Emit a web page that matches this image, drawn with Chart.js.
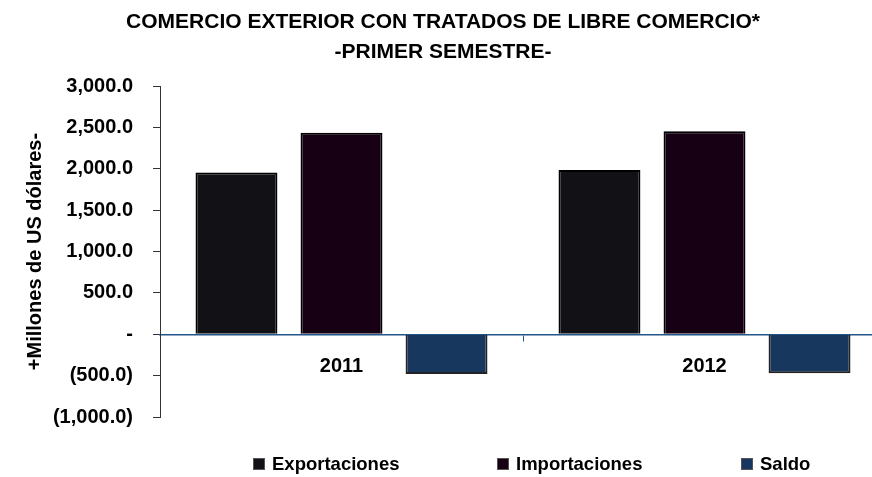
<!DOCTYPE html>
<html lang="es">
<head>
    <meta charset="UTF-8">
    <title>Comercio exterior con tratados de libre comercio</title>
    <script src="https://cdn.jsdelivr.net/npm/chart.js"></script>
    <style>
        body { margin: 0; overflow: hidden; background: #fff; }
    </style>
</head>
<body>

    <canvas id="myChart" width="886" height="477"></canvas>

    <script>
        // values (millions of US dollars)
        const years = ['2011', '2012'];
        const exportaciones = [1955, 1985];
        const importaciones = [2435, 2455];
        const saldo = [-480, -470];

        const titleLines = ['COMERCIO EXTERIOR CON TRATADOS DE LIBRE COMERCIO*', '-PRIMER SEMESTRE-'];
        const yTitle = '+Millones de US dólares-';

        const fontFamily = "'Liberation Sans', Arial, sans-serif";

        function fmt(v) {
            if (v === 0) return '-';
            const s = Math.abs(v).toLocaleString('en-US', { minimumFractionDigits: 1, maximumFractionDigits: 1 });
            return v < 0 ? '(' + s + ')' : s;
        }

        // legend drawn by hand, Excel spaces the items far apart
        const wideLegend = {
            id: 'wideLegend',
            afterDraw(chart) {
                const ctx = chart.ctx;
                const startX = 253, step = 244, y = 464;
                ctx.save();
                ctx.font = 'bold 18.5px ' + fontFamily;
                ctx.textBaseline = 'middle';
                chart.data.datasets.forEach((ds, i) => {
                    const x = startX + i * step;
                    ctx.fillStyle = ds.backgroundColor;
                    ctx.fillRect(x, y - 6, 12, 12);
                    ctx.strokeStyle = '#555';
                    ctx.lineWidth = 1;
                    ctx.strokeRect(x + 0.5, y - 5.5, 11, 11);
                    ctx.fillStyle = '#000';
                    ctx.fillText(ds.label, x + 19, y + 1);
                });
                ctx.restore();
            }
        };

        const ctx = document.getElementById('myChart').getContext('2d');
        new Chart(ctx, {
            type: 'bar',
            data: {
                labels: years,
                datasets: [
                    { label: 'Exportaciones', data: exportaciones, backgroundColor: '#111116', borderColor: '#000', borderWidth: 2 },
                    { label: 'Importaciones', data: importaciones, backgroundColor: '#180014', borderColor: '#000', borderWidth: 2 },
                    { label: 'Saldo', data: saldo, backgroundColor: '#17375E', borderColor: '#222', borderWidth: 2 }
                ]
            },
            options: {
                responsive: false,
                animation: false,
                categoryPercentage: 0.868,
                barPercentage: 0.78,
                layout: { padding: { top: 0, left: 0, right: 0, bottom: 60 } },
                plugins: {
                    legend: { display: false },
                    tooltip: { enabled: false },
                    title: {
                        display: true,
                        text: titleLines,
                        color: '#000',
                        font: { family: fontFamily, size: 21, weight: 'bold', lineHeight: 1.43 },
                        padding: { top: 7, bottom: 19 }
                    }
                },
                scales: {
                    x: {
                        position: { y: 0 },
                        offset: true,
                        grid: { drawOnChartArea: false, offset: true, tickLength: 6, color: '#23568a' },
                        border: { color: '#23568a', width: 1.5 },
                        ticks: { color: '#000', padding: 14, font: { family: fontFamily, size: 20, weight: 'bold' } }
                    },
                    y: {
                        min: -1000,
                        max: 3000,
                        afterFit: s => { s.width = 160; },
                        grid: { drawOnChartArea: false, tickLength: 7, color: '#333' },
                        border: { color: '#333', width: 1 },
                        ticks: {
                            stepSize: 500,
                            color: '#000',
                            padding: 20,
                            font: { family: fontFamily, size: 20, weight: 'bold' },
                            callback: v => fmt(v)
                        },
                        title: {
                            display: true,
                            text: yTitle,
                            color: '#000',
                            font: { family: fontFamily, size: 20, weight: 'bold' },
                            padding: { top: 23, bottom: 0 }
                        }
                    }
                }
            },
            plugins: [wideLegend]
        });
    </script>

</body>
</html>
